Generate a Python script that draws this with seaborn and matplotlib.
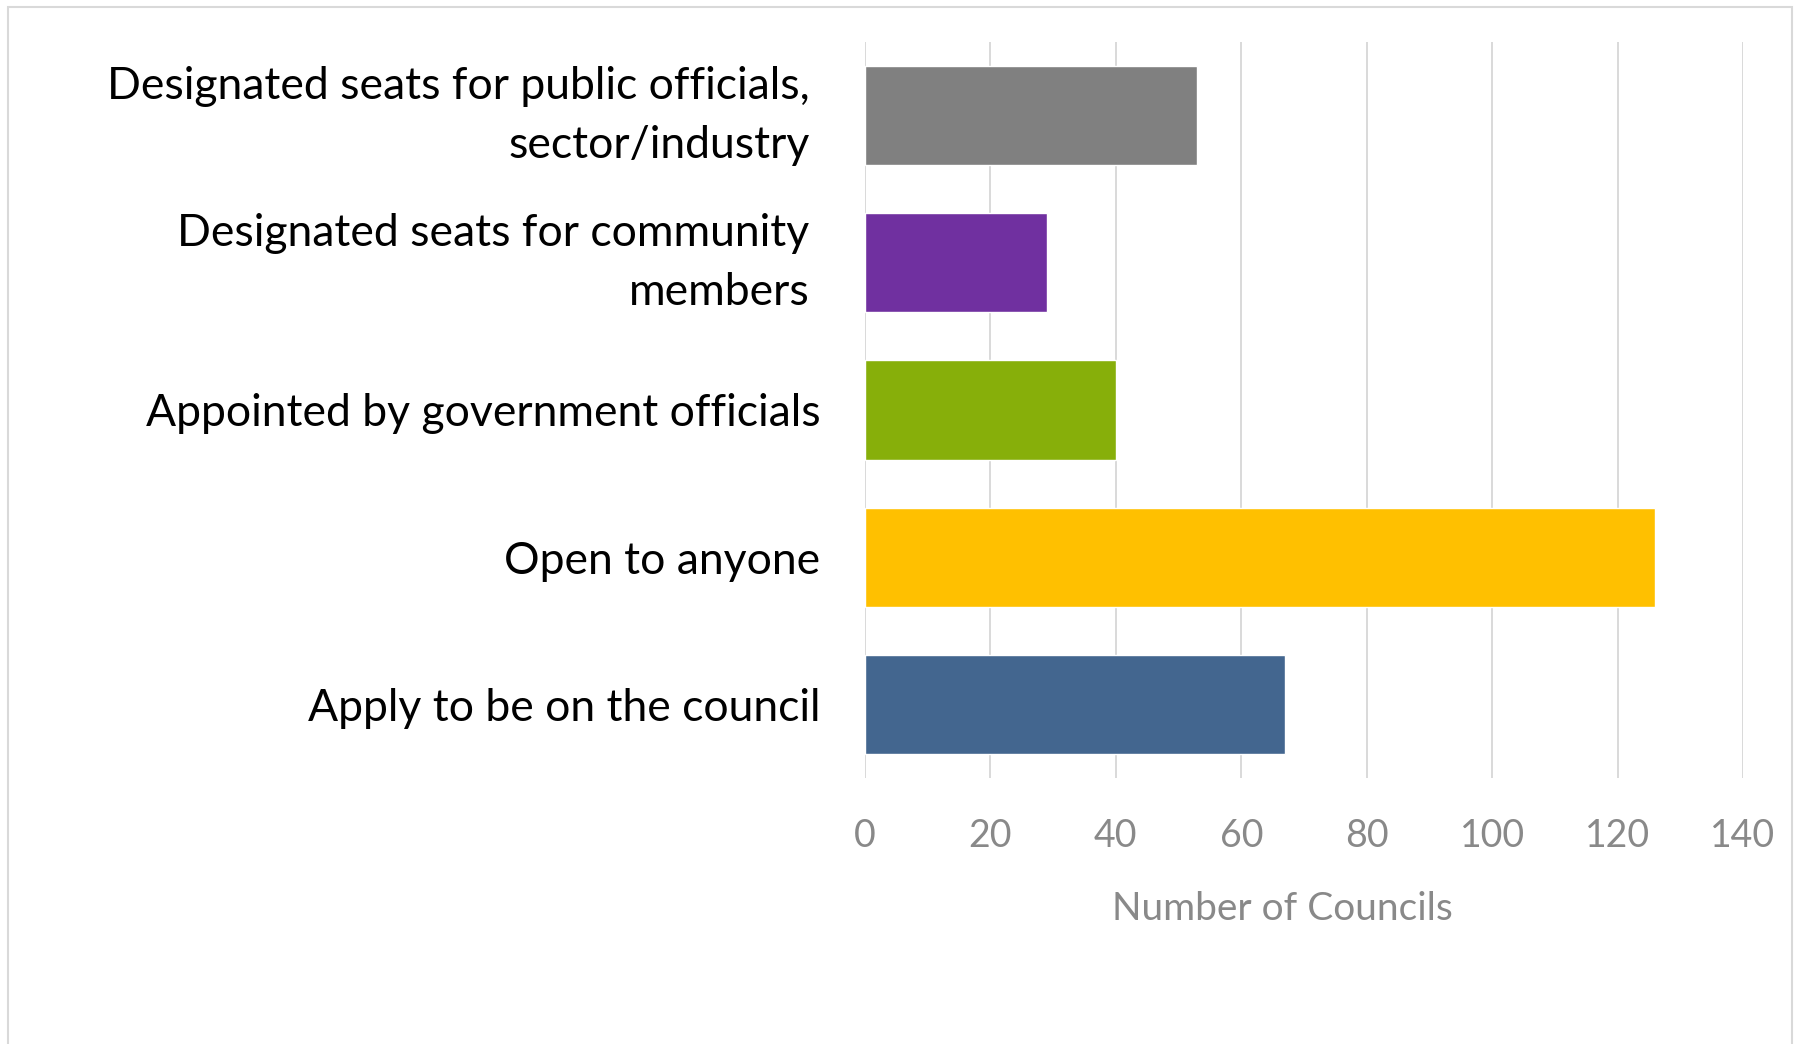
import matplotlib
matplotlib.use("Agg")
import matplotlib.pyplot as plt
from matplotlib.patches import Rectangle
from matplotlib.transforms import ScaledTranslation
import seaborn as sns
import pandas as pd

# Council membership selection methods
categories = [
    "Designated seats for public officials,\nsector/industry",
    "Designated seats for community\nmembers",
    "Appointed by government officials",
    "Open to anyone",
    "Apply to be on the council",
]
councils = [53, 29, 40, 126, 67]
bar_colors = ["#808080", "#7030A0", "#87AF0A", "#FFC000", "#43668F"]
x_ticks = [0, 20, 40, 60, 80, 100, 120, 140]
x_label = "Number of Councils"

sns.set_theme(style="white")
plt.rcParams["font.family"] = ["Lato", "DejaVu Sans"]

df = pd.DataFrame({"method": categories, "count": councils})

fig = plt.figure(figsize=(17.98, 10.44), dpi=100)
ax = fig.add_axes([865 / 1798, 1 - 778 / 1044, 878 / 1798, 736 / 1044])

sns.barplot(
    data=df, y="method", x="count", hue="method",
    palette=dict(zip(categories, bar_colors)), order=categories,
    width=0.673, saturation=1, legend=False, ax=ax, zorder=3,
)

ax.set_xlim(0, 140)
ax.set_ylim(4.5, -0.5)
ax.set_xticks(x_ticks)
ax.set_xticklabels([str(t) for t in x_ticks])
ax.grid(axis="x", color="#D9D9D9", linewidth=1.4, zorder=0)
ax.grid(axis="y", visible=False)
for s in ax.spines.values():
    s.set_visible(False)

ax.tick_params(axis="x", length=0, pad=29, labelsize=27, labelcolor="#898989")
ax.tick_params(axis="y", length=0, pad=32, labelsize=32, labelcolor="#000000")
ax.set_ylabel("")
ax.set_xlabel(x_label, fontsize=28, color="#898989")
ax.xaxis.set_label_coords((1282 - 865) / 878, -(909 - 778) / 736)
ax.xaxis.label.set_va("center")

# wrapped category names sit a little further from the axis
for i, lab in enumerate(ax.get_yticklabels()):
    lab.set_linespacing(1.55)
    if "\n" in lab.get_text():
        lab.set_va("center")
        lab.set_transform(lab.get_transform() + ScaledTranslation(-11 / 100, 0, fig.dpi_scale_trans))

# thin frame round the chart area
fig.patches.append(Rectangle((8 / 1798, -0.05), (1792 - 8) / 1798, 1.05 - 7 / 1044,
                             transform=fig.transFigure, fill=False,
                             edgecolor="#D9D9D9", linewidth=1.5))

fig.savefig("out.png", dpi=100, facecolor="white")
